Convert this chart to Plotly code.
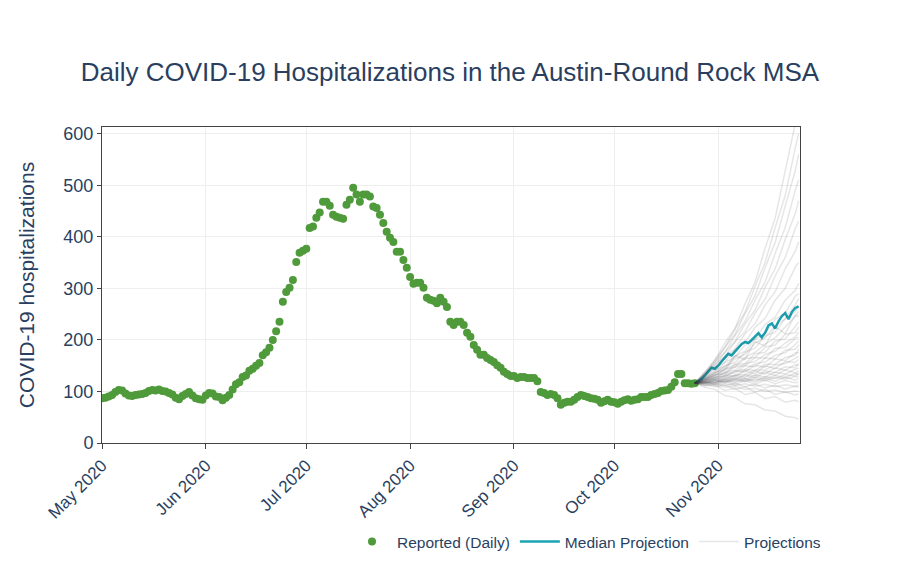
import plotly.graph_objects as go
import pandas as pd

# reported daily hospitalizations, May 1 - Oct 25 2020
reported = [
    87, 88, 90, 93, 99, 103, 102, 96, 92, 91,
    93, 94, 95, 97, 101, 103, 102, 104, 101, 100,
    97, 94, 88, 85, 91, 95, 99, 92, 87, 85,
    84, 92, 97, 96, 90, 89, 83, 88, 93, 104,
    114, 118, 128, 131, 140, 144, 150, 155, 170, 176,
    185, 200, 217, 235, 274, 293, 301, 316, 351, 369,
    373, 377, 417, 420, 437, 447, 468, 468, 460, 443,
    439, 437, 435, 462, 472, 495, 482, 468, 482, 482,
    478, 459, 456, 443, 427, 410, 398, 390, 371, 371,
    355, 340, 322, 309, 311, 311, 301, 282, 278, 276,
    271, 282, 274, 264, 235, 229, 235, 235, 229, 214,
    206, 190, 181, 171, 171, 165, 161, 157, 151, 146,
    138, 134, 130, 130, 126, 128, 128, 126, 126, 126,
    120, 99, 97, 93, 95, 93, 87, 74, 78, 80,
    80, 84, 89, 93, 91, 89, 87, 86, 84, 78,
    81, 84, 80, 79, 76, 80, 83, 85, 82, 84,
    85, 89, 89, 89, 93, 95, 97, 101, 102, 103,
    109, 118, 134, 134, 116, 116, 115, 116,
]
reported_dates = pd.date_range("2020-05-01", periods=len(reported), freq="D")

# median projection, Oct 25 - Nov 25
median = [116, 120, 124, 131, 138, 146, 144, 150, 158, 166, 173, 170, 178, 184, 192, 196,
          194, 200, 207, 213, 205, 214, 228, 232, 222, 236, 246, 252, 240, 254, 262, 265]
median_dates = pd.date_range("2020-10-25", periods=len(median), freq="D")

# individual projection runs (sampled every few days)
proj_dates = ["2020-10-25", "2020-10-28", "2020-10-31", "2020-11-03", "2020-11-06", "2020-11-09",
              "2020-11-12", "2020-11-15", "2020-11-18", "2020-11-21", "2020-11-24", "2020-11-25"]
projections = [
    [116, 139, 160, 194, 222, 270, 312, 378, 436, 528, 612, 650],
    [116, 136, 162, 185, 221, 254, 304, 350, 418, 480, 572, 600],
    [116, 135, 155, 186, 211, 251, 286, 340, 389, 460, 528, 560],
    [116, 134, 157, 176, 208, 236, 277, 312, 368, 418, 490, 510],
    [116, 133, 150, 176, 197, 231, 258, 302, 338, 395, 445, 470],
    [116, 132, 152, 168, 196, 216, 252, 279, 324, 360, 416, 430],
    [116, 130, 145, 167, 183, 212, 231, 268, 293, 338, 372, 390],
    [116, 129, 146, 157, 181, 195, 224, 242, 277, 300, 341, 350],
    [116, 128, 138, 156, 167, 190, 202, 230, 244, 277, 296, 310],
    [116, 127, 141, 149, 168, 178, 201, 212, 240, 252, 285, 290],
    [116, 124, 136, 146, 163, 172, 194, 204, 228, 240, 268, 280],
    [116, 126, 134, 150, 156, 176, 184, 208, 215, 242, 254, 265],
    [116, 125, 131, 144, 152, 166, 176, 192, 204, 224, 246, 255],
    [116, 125, 137, 141, 170, 162, 197, 188, 226, 212, 248, 245],
    [116, 121, 133, 136, 152, 154, 173, 176, 198, 202, 226, 235],
    [116, 124, 130, 143, 147, 164, 166, 186, 190, 211, 214, 225],
    [116, 123, 127, 138, 141, 154, 158, 172, 178, 194, 206, 215],
    [116, 123, 132, 134, 148, 150, 166, 165, 184, 185, 203, 205],
    [116, 120, 127, 131, 139, 143, 154, 157, 170, 175, 191, 198],
    [116, 122, 126, 136, 136, 150, 148, 165, 163, 180, 182, 190],
    [116, 122, 123, 132, 131, 142, 141, 153, 153, 166, 170, 182],
    [116, 121, 128, 128, 140, 138, 151, 147, 163, 160, 175, 175],
    [116, 119, 124, 125, 132, 133, 141, 142, 151, 154, 164, 168],
    [116, 120, 122, 130, 128, 140, 134, 150, 144, 158, 156, 162],
    [116, 120, 119, 127, 124, 133, 130, 140, 137, 148, 146, 155],
    [116, 119, 124, 122, 131, 127, 139, 134, 146, 141, 152, 150],
    [116, 116, 122, 119, 127, 123, 132, 128, 137, 134, 143, 145],
    [116, 118, 118, 124, 122, 131, 126, 137, 131, 142, 136, 140],
    [116, 119, 117, 123, 119, 126, 121, 129, 125, 133, 130, 136],
    [116, 117, 121, 118, 125, 120, 128, 124, 131, 127, 135, 132],
    [116, 115, 120, 117, 122, 119, 124, 121, 127, 124, 129, 128],
    [116, 117, 116, 121, 117, 124, 118, 126, 120, 128, 122, 125],
    [116, 118, 114, 120, 113, 121, 114, 122, 115, 121, 117, 118],
    [116, 117, 113, 116, 111, 115, 110, 114, 109, 113, 110, 112],
    [116, 113, 117, 111, 116, 109, 114, 107, 112, 105, 110, 108],
    [116, 112, 114, 108, 110, 104, 106, 100, 103, 98, 101, 100],
    [116, 115, 109, 113, 104, 109, 99, 104, 94, 99, 93, 95],
    [116, 111, 112, 102, 106, 94, 98, 86, 90, 79, 83, 80],
    [116, 108, 104, 92, 88, 76, 74, 64, 62, 52, 49, 46],
]

fig = go.Figure()

fig.add_trace(go.Scatter(
    x=reported_dates, y=reported, mode="markers",
    marker=dict(color="#4f9a3a", size=8),
    name="Reported (Daily)", legendrank=1,
))

fig.add_trace(go.Scatter(
    x=median_dates, y=median, mode="lines",
    line=dict(color="#1aa3b3", width=2.5),
    name="Median Projection", legendrank=2,
))

for i, run in enumerate(projections):
    fig.add_trace(go.Scatter(
        x=proj_dates, y=run, mode="lines",
        line=dict(color="rgba(60,60,70,0.13)", width=1.5),
        name="Projections", legendgroup="proj",
        showlegend=(i == 0), hoverinfo="skip",
        legendrank=3,
    ))

fig.update_layout(
    width=900, height=577,
    template="plotly_white",
    font=dict(family="Liberation Sans, Arial, sans-serif", color="#2a3f5f"),
    title=dict(text="Daily COVID-19 Hospitalizations in the Austin-Round Rock MSA",
               x=0.491, xanchor="center", y=0.889, yanchor="middle",
               font=dict(size=26)),
    margin=dict(l=94, r=108, t=119, b=142),
    plot_bgcolor="white",
    legend=dict(orientation="h", x=0.351, xanchor="left", y=-0.313, yanchor="middle",
                font=dict(size=15.5), itemwidth=40),
)
fig.update_xaxes(
    range=["2020-05-01", "2020-11-25 10:00"],
    dtick="M1", tickformat="%b %Y", tickangle=-45,
    tickfont=dict(size=17),
    showline=True, linecolor="#444", linewidth=1, mirror=True,
    ticks="outside", ticklen=5, tickcolor="#444",
    gridcolor="#eeeeee",
)
fig.update_yaxes(
    range=[0, 613],
    dtick=100,
    tickfont=dict(size=18),
    title=dict(text="COVID-19 hospitalizations", font=dict(size=21), standoff=23),
    showline=True, linecolor="#444", linewidth=1, mirror=True,
    ticks="outside", ticklen=4, tickcolor="#444",
    gridcolor="#eeeeee", zeroline=False,
)

fig.write_html("out.html")
